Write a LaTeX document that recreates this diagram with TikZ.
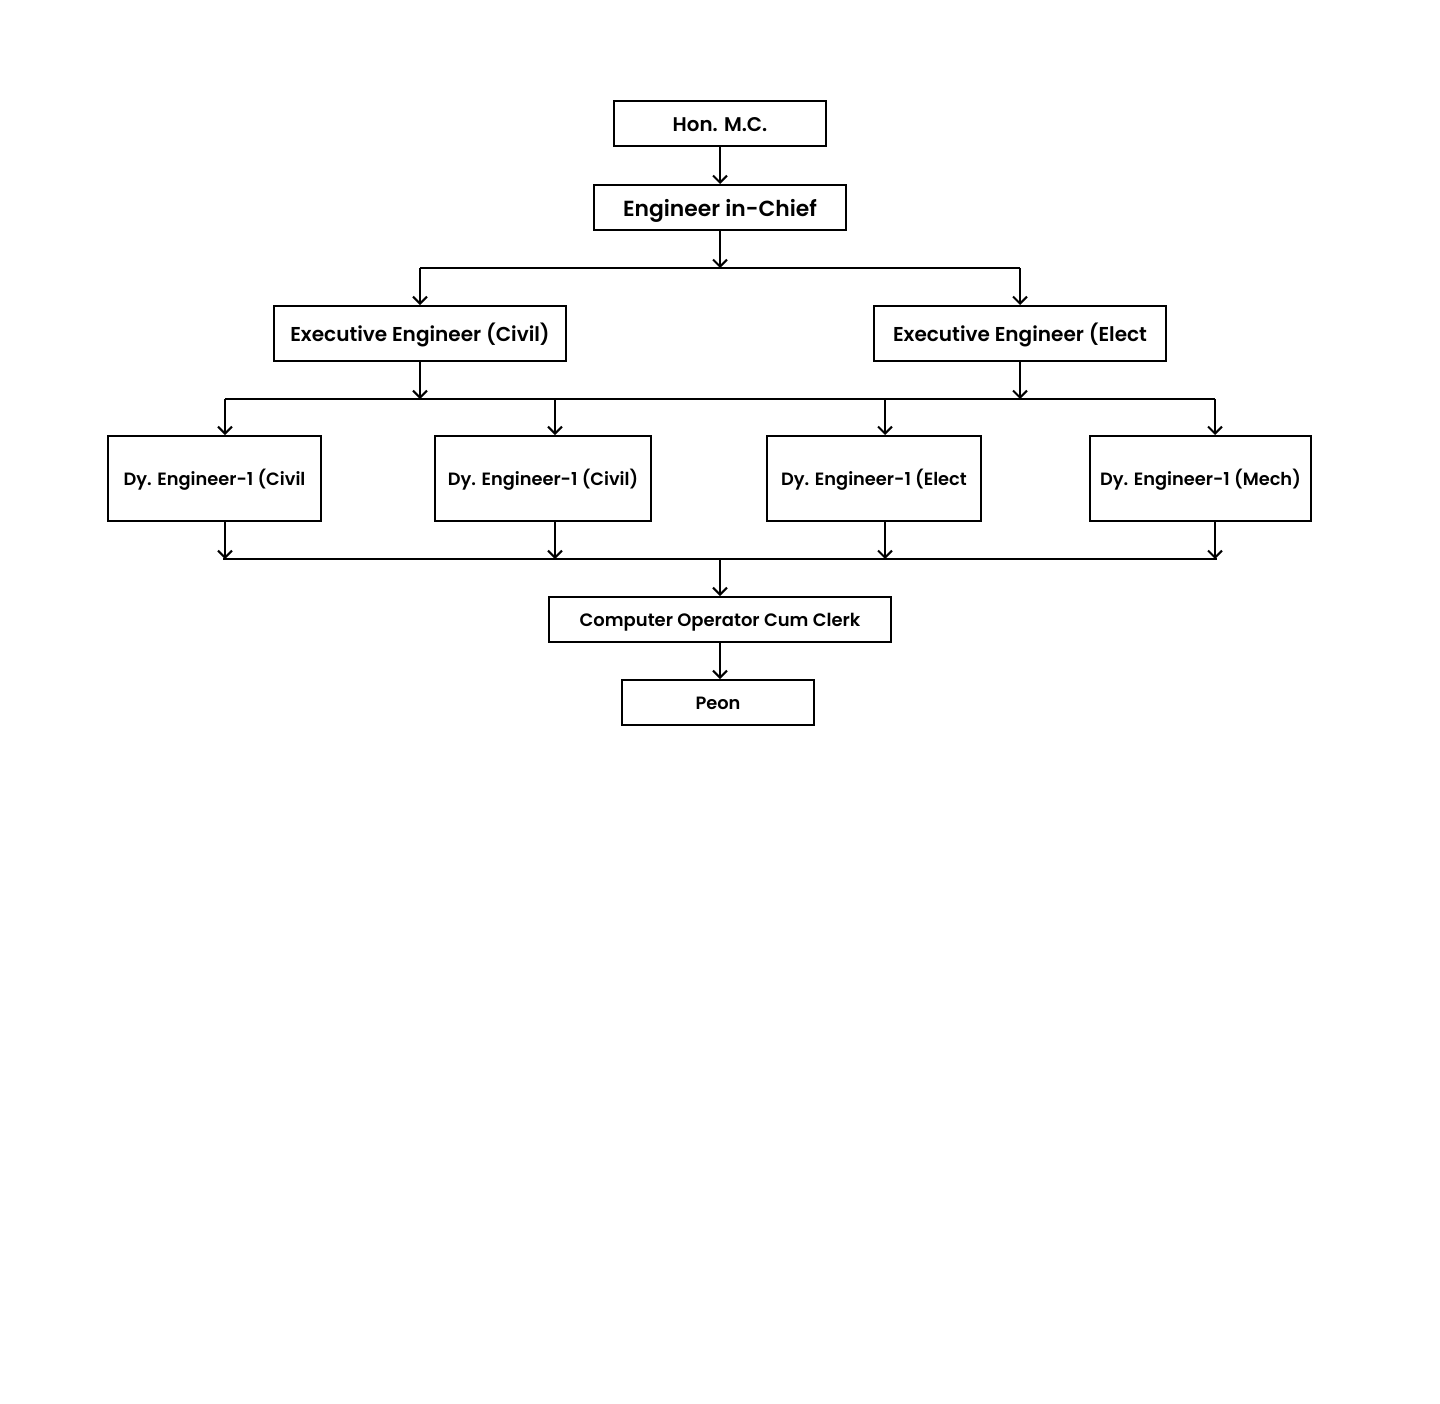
\documentclass[tikz,border=0pt]{standalone}
\usepackage{fontspec}
\setmainfont{Poppins}[BoldFont={Poppins SemiBold}]
\usetikzlibrary{arrows.meta}
\begin{document}
\begin{tikzpicture}[x=1pt,y=-1pt,
  box/.style={draw=black,line width=2pt,rectangle,inner sep=0pt,text depth=0pt},
  fs/.style={font=\bfseries\fontsize{#1}{#1}\selectfont,text height=\dimexpr #1pt*80/100\relax},
  arr/.style={line width=2pt,-{Straight Barb[length=7pt,width=14pt]}},
  bus/.style={line width=2pt}]
\useasboundingbox (0,0) rectangle (1440,1403);
\fill[white] (0,0) rectangle (1440,1403);
% nodes
\node[box,fs=19.8,minimum width=212pt,minimum height=45pt] (hon) at (720,123.5) {Hon. M.C.};
\node[box,fs=21.85,minimum width=252pt,minimum height=45pt] (eic) at (720,207.5) {Engineer in-Chief};
\node[box,fs=20.06,minimum width=292pt,minimum height=55pt] (ec) at (420,333.5) {Executive Engineer (Civil)};
\node[box,fs=20.06,minimum width=292pt,minimum height=55pt] (ee) at (1020,333.5) {Executive Engineer (Elect};
\node[box,fs=17.8,minimum width=213pt,minimum height=85pt] (d1) at (214.5,478.5) {Dy. Engineer-1 (Civil};
\node[box,fs=17.8,minimum width=216pt,minimum height=85pt] (d2) at (543,478.5) {Dy. Engineer-1 (Civil)};
\node[box,fs=17.8,minimum width=214pt,minimum height=85pt] (d3) at (874,478.5) {Dy. Engineer-1 (Elect};
\node[box,fs=17.8,minimum width=221pt,minimum height=85pt] (d4) at (1200.5,478.5) {Dy. Engineer-1 (Mech)};
\node[box,fs=17.95,minimum width=342pt,minimum height=45pt] (co) at (720,619.5) {Computer Operator Cum Clerk};
\node[box,fs=17.8,minimum width=192pt,minimum height=45pt] (pe) at (718,702.5) {Peon};
% coordinates
\coordinate (b1m) at (720,268);
\coordinate (b1l) at (420,268);
\coordinate (b1r) at (1020,268);
\coordinate (b2l) at (225,399);
\coordinate (b2r) at (1215,399);
\coordinate (t1) at (225,399);
\coordinate (t2) at (555,399);
\coordinate (t3) at (885,399);
\coordinate (t4) at (1215,399);
\coordinate (b3l) at (223,559);
\coordinate (b3r) at (1217,559);
\coordinate (b3m) at (720,559);
% connectors
\draw[arr] (hon.south) -- (eic.north);
\draw[arr] (eic.south) -- (b1m);
\draw[bus] (b1l) -- (b1r);
\draw[arr] (b1l) -- (ec.north);
\draw[arr] (b1r) -- (ee.north);
\draw[arr] (ec.south) -- (ec.south |- b2l);
\draw[arr] (ee.south) -- (ee.south |- b2l);
\draw[bus] (b2l) -- (b2r);
\draw[arr] (t1) -- (t1 |- d1.north);
\draw[arr] (t2) -- (t2 |- d2.north);
\draw[arr] (t3) -- (t3 |- d3.north);
\draw[arr] (t4) -- (t4 |- d4.north);
\draw[arr] (d1.south -| t1) -- (t1 |- b3l);
\draw[arr] (d2.south -| t2) -- (t2 |- b3l);
\draw[arr] (d3.south -| t3) -- (t3 |- b3l);
\draw[arr] (d4.south -| t4) -- (t4 |- b3l);
\draw[bus] (b3l) -- (b3r);
\draw[arr] (b3m) -- (co.north);
\draw[arr] (co.south) -- (co.south |- pe.north);
\end{tikzpicture}
\end{document}
